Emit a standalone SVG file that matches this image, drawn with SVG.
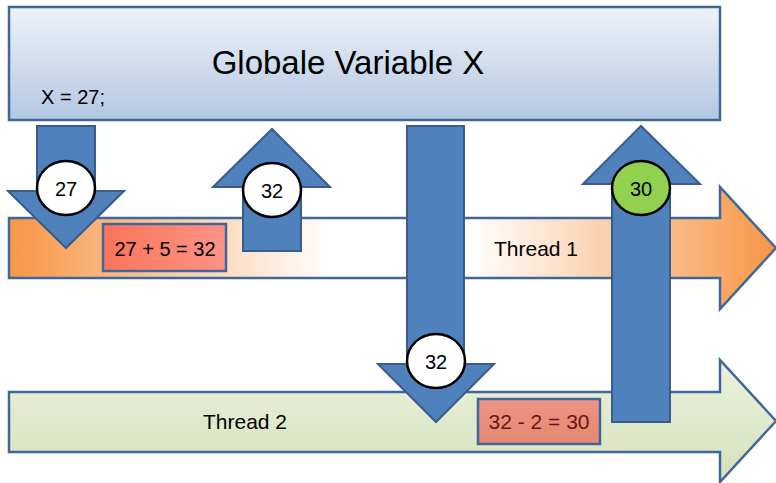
<svg xmlns="http://www.w3.org/2000/svg" width="776" height="483" viewBox="0 0 776 483">
<defs>
<linearGradient id="gTop" x1="0" y1="0" x2="0" y2="1">
<stop offset="0" stop-color="#eef2f9"/><stop offset="1" stop-color="#b3c7e2"/>
</linearGradient>
<linearGradient id="gT1" x1="9" y1="0" x2="776" y2="0" gradientUnits="userSpaceOnUse">
<stop offset="0" stop-color="#f79646"/><stop offset="0.42" stop-color="#ffffff"/><stop offset="0.6" stop-color="#ffffff"/><stop offset="1" stop-color="#f79646"/>
</linearGradient>
<linearGradient id="gT2" x1="0" y1="0" x2="0" y2="1">
<stop offset="0" stop-color="#ebf1de"/><stop offset="1" stop-color="#d5e2bb"/>
</linearGradient>
<linearGradient id="gR1" x1="0" y1="0" x2="1" y2="0">
<stop offset="0" stop-color="#fb7558"/><stop offset="1" stop-color="#fd9386"/>
</linearGradient>
<linearGradient id="gR2" x1="0" y1="0" x2="0" y2="1">
<stop offset="0" stop-color="#ee9484"/><stop offset="1" stop-color="#e58872"/>
</linearGradient>
<style>
.ol{stroke:#41679a;stroke-width:2.5}
.blue{fill:#4f81bd;stroke:#385d8a;stroke-width:2}
.circ{fill:#ffffff;stroke:#000000;stroke-width:2.5}
text{font-family:"Liberation Sans",Arial,sans-serif;fill:#000000}
</style>
</defs>
<g id="global">
<rect class="ol" x="9" y="7" width="711" height="113" fill="url(#gTop)"/>
<text x="348" y="74" font-size="33" text-anchor="middle">Globale Variable X</text>
<text x="41" y="104" font-size="20">X = 27;</text>
</g>
<g id="thread1">
<path class="ol" fill="url(#gT1)" d="M9,218 H720 V187 L776,248 L720,309 V278 H9 Z"/>
<text x="536" y="256" font-size="21" text-anchor="middle">Thread 1</text>
</g>
<g id="thread2">
<path class="ol" fill="url(#gT2)" d="M9,392 H720 V360 L776,421 L720,482 V452 H9 Z"/>
<text x="245" y="429" font-size="21" text-anchor="middle">Thread 2</text>
</g>
<g id="connectors">
<path class="blue" d="M37,126 H95 V191 H124 L66,248 L8,191 H37 Z"/>
<path class="blue" d="M243,251 V187 H213 L272,129 L330,187 H301 V251 Z"/>
<path class="blue" d="M407,126 H464 V364 H494 L436,422 L378,364 H407 Z"/>
<path class="blue" d="M612,422 V184 H583 L641,126 L700,184 H670 V422 Z"/>
</g>
<g id="calc1">
<rect class="ol" x="103" y="224" width="123" height="47" fill="url(#gR1)"/>
<text x="165" y="256" font-size="20" text-anchor="middle">27 + 5 = 32</text>
</g>
<g id="calc2">
<rect class="ol" x="478" y="399" width="122" height="45" fill="url(#gR2)"/>
<text x="539" y="429" font-size="21" text-anchor="middle" style="fill:#6e1410">32 - 2 = 30</text>
</g>
<g id="v27">
<ellipse class="circ" cx="66" cy="188" rx="29" ry="27"/>
<text x="66" y="196" font-size="20" text-anchor="middle">27</text>
</g>
<g id="v32a">
<ellipse class="circ" cx="272" cy="190" rx="29" ry="27"/>
<text x="272" y="198" font-size="20" text-anchor="middle">32</text>
</g>
<g id="v32b">
<ellipse class="circ" cx="436" cy="361" rx="29" ry="27"/>
<text x="436" y="369" font-size="20" text-anchor="middle">32</text>
</g>
<g id="v30">
<ellipse class="circ" cx="641" cy="188" rx="29" ry="27" style="fill:#92d050"/>
<text x="641" y="196" font-size="20" text-anchor="middle">30</text>
</g>
</svg>
